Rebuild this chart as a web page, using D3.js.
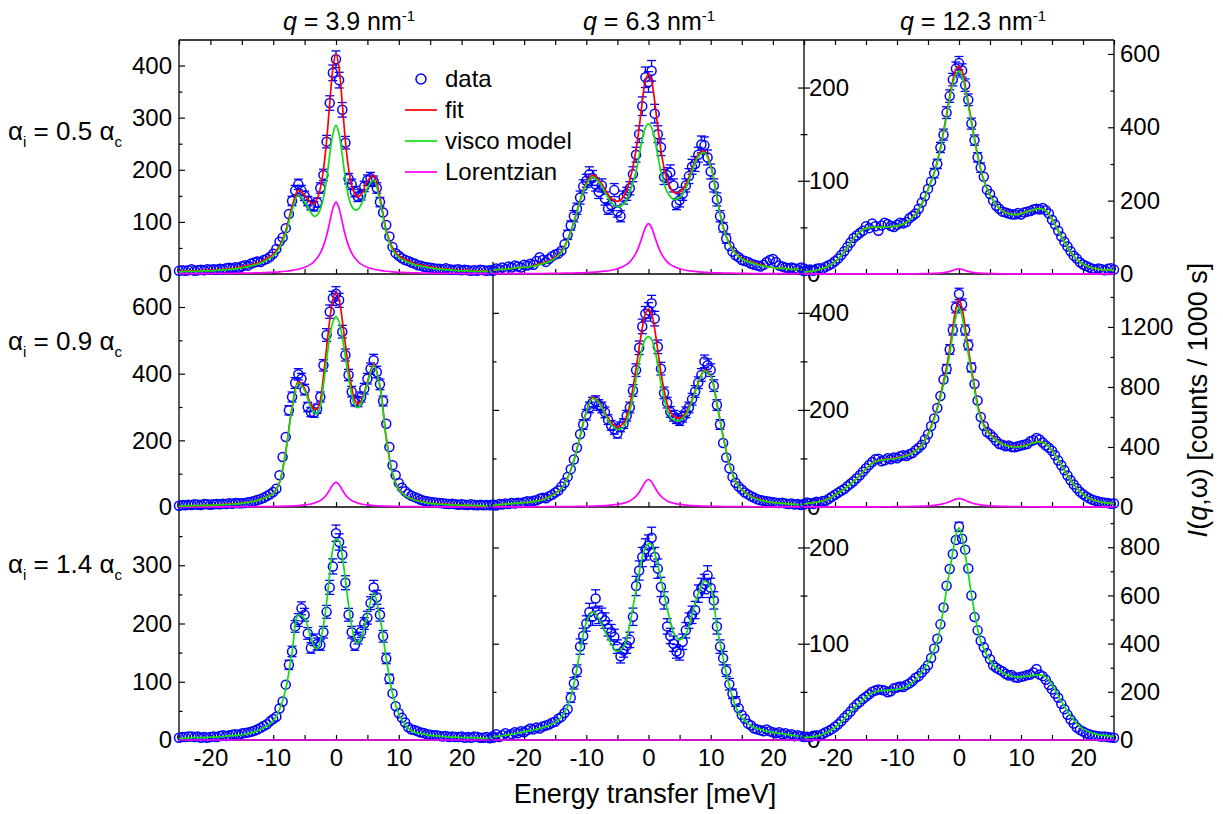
<!DOCTYPE html>
<html>
<head>
<meta charset="utf-8">
<script src="https://cdn.jsdelivr.net/npm/d3@7"></script>
<style>
  html, body { margin: 0; padding: 0; background: #fff; }
  svg { display: block; }
</style>
</head>
<body>
<svg id="chart" width="1223" height="814"></svg>
<script>
// ---------------------------------------------------------------------------
// Energy grids [meV]
// ---------------------------------------------------------------------------
const energy = [-25,-24.5,-24,-23.5,-23,-22.5,-22,-21.5,-21,-20.5,-20,-19.5,-19,-18.5,-18,-17.5,-17,-16.5,-16,-15.5,
  -15,-14.5,-14,-13.5,-13,-12.5,-12,-11.5,-11,-10.5,-10,-9.5,-9,-8.5,-8,-7.5,-7,-6.5,-6,-5.5,
  -5,-4.5,-4,-3.5,-3,-2.5,-2,-1.5,-1,-0.5,0,0.5,1,1.5,2,2.5,3,3.5,4,4.5,
  5,5.5,6,6.5,7,7.5,8,8.5,9,9.5,10,10.5,11,11.5,12,12.5,13,13.5,14,14.5,
  15,15.5,16,16.5,17,17.5,18,18.5,19,19.5,20,20.5,21,21.5,22,22.5,23,23.5,24,24.5,25];

const energyModel = [-25,-24,-23,-22,-21,-20,-19,-18,-17,-16,-15,-14,-13,-12,-11,-10,-9,-8,-7,-6,-5,
  -4,-3.5,-3,-2.5,-2,-1.5,-1,-0.5,0,0.5,1,1.5,2,2.5,3,3.5,4,
  5,6,7,8,9,10,11,12,13,14,15,16,17,18,19,20,21,22,23,24,25];

const energyFlat = [-25, 25];
const lorentzFlat = [0, 0];

// ---------------------------------------------------------------------------
// alpha_i = 0.5 alpha_c
// ---------------------------------------------------------------------------
const counts_a05_q39 = [6,7,6,7,9,6,7,8,7,9, 8,9,8,10,9,11,12,11,13,12, 15,17,16,20,22,24,23,27,29,33,
  39,48,62,70,88,115,140,160,172,160, 150,140,132,130,137,165,190,254,328,386, 412,372,315,252,183,172,158,148,152,168,
  180,184,178,165,138,118,94,72,52,40, 35,30,27,25,22,20,17,16,14,13, 12,11,10,10,9,11,9,8,8,9, 7,8,7,6,7,6,8,7,6,7, 6];
const err_a05_q39 = [2,2,2,2,2,2,2,2,2,2, 2,2,2,2,2,3,3,3,3,3, 3,3,3,3,4,4,4,4,4,4,
  5,5,6,6,7,8,9,10,10,10, 9,9,9,9,9,10,11,12,14,15, 16,15,14,12,10,10,10,9,10,10,
  10,11,10,10,9,8,8,7,6,5, 5,4,4,4,4,3,3,3,3,3, 3,3,2,2,2,3,2,2,2,2, 2,2,2,2,2,2,2,2,2,2, 2];
const visco_a05_q39 = [4,5,5,5,6,6,7,8,9,10,12,14,17,21,27,35,50,78,122,152,138,
  118,111,113,124,146,182,228,268,285,268,228,182,148,130,123,124,133,
  165,180,140,80,46,32,25,20,16,14,12,10,9,8,7,6,6,5,5,5,4];
const lorentz_a05_q39 = [0.6,0.6,0.7,0.7,0.8,0.9,1.0,1.1,1.2,1.4,1.5,1.8,2.1,2.4,2.9,3.4,4.2,5.3,6.9,9.2,12.8,
  19.0,23.9,30.6,40.1,53.9,73.4,99.3,125.7,138,125.7,99.3,73.4,53.9,40.1,30.6,23.9,19.0,
  12.8,9.2,6.9,5.3,4.2,3.4,2.9,2.4,2.1,1.8,1.5,1.4,1.2,1.1,1.0,0.9,0.8,0.7,0.7,0.6,0.6];
const fit_a05_q39 = [5,6,6,6,7,7,8,9,10,11,14,16,19,23,30,38,54,83,129,161,151,
  137,135,144,164,200,255,327,394,423,394,327,255,202,170,154,148,152,
  178,189,147,85,50,35,28,22,18,16,14,11,10,9,8,7,7,6,6,6,5];

const counts_a05_q63 = [4,6,5,7,5,8,7,9,8,7, 10,9,11,10,14,18,15,13,16,19, 21,22,25,32,42,52,62,70,82,94,
  100,107,103,96,88,95,81,70,74,90, 67,62,82,86,92,107,128,150,180,211, 206,218,172,150,136,104,106,109,95,75,
  79,86,95,105,115,118,128,139,138,125, 110,95,80,62,50,38,30,24,20,18, 15,14,13,11,10,9,8,10,13,15, 16,13,9,8,7,6,7,6,5,7, 6];
const err_a05_q63 = [2,2,2,2,2,2,2,2,2,2, 2,2,2,2,3,3,3,3,3,3, 3,4,4,4,5,5,6,6,7,7,
  7,8,8,7,7,7,7,6,6,7, 6,6,7,7,7,8,8,9,10,11, 11,11,10,9,9,8,8,8,7,6,
  7,7,7,8,8,8,8,9,9,8, 8,7,7,6,5,5,4,4,3,3, 3,3,3,2,2,2,2,2,3,3, 3,3,2,2,2,2,2,2,2,2, 2];
const visco_a05_q63 = [4,5,5,6,7,7,8,9,11,13,17,23,36,55,78,96,104,99,88,77,72,
  75,80,88,98,110,127,145,157,161,157,145,127,110,97,88,83,80,
  82,92,110,126,130,115,82,50,32,22,16,13,11,9,8,7,6,6,5,5,4];
const lorentz_a05_q63 = [0.3,0.3,0.3,0.3,0.4,0.4,0.4,0.5,0.5,0.6,0.7,0.8,0.9,1.1,1.3,1.5,1.9,2.3,3.0,4.0,5.6,
  8.3,10.3,13.1,17.1,22.7,30.4,40.1,49.7,54,49.7,40.1,30.4,22.7,17.1,13.1,10.3,8.3,
  5.6,4.0,3.0,2.3,1.9,1.5,1.3,1.1,0.9,0.8,0.7,0.6,0.5,0.5,0.4,0.4,0.4,0.3,0.3,0.3,0.3];
const fit_a05_q63 = [4,5,5,6,7,7,8,10,12,14,18,24,37,56,79,98,106,101,91,81,78,
  83,90,101,115,133,157,185,207,215,207,185,157,133,114,101,93,88,
  88,96,113,128,132,117,83,51,33,23,17,14,12,10,8,7,6,6,5,5,4];

const counts_a05_q123 = [8,10,12,9,14,16,14,20,24,28, 35,42,52,62,74,86,98,105,112,118, 130,125,138,130,118,132,140,136,131,128,
  134,140,138,142,152,158,165,178,195,212, 232,252,275,300,345,380,440,485,530,560, 575,555,515,475,410,365,318,290,265,230,
  218,200,186,178,170,168,165,163,162,166, 162,168,170,172,176,178,176,180,174,165, 148,135,118,102,88,75,62,50,42,32, 26,22,18,14,12,15,13,10,14,16, 12];
const err_a05_q123 = [2,2,3,2,3,3,3,3,4,4, 4,5,5,6,6,7,7,8,8,8, 9,8,9,9,8,9,9,9,9,9,
  9,9,9,9,9,9,10,10,11,11, 11,12,13,13,14,15,16,17,17,18, 18,18,17,16,15,14,13,13,12,11,
  11,11,10,10,10,10,10,10,10,10, 10,10,10,10,10,10,10,10,10,10, 9,9,8,8,7,7,6,5,5,4, 4,4,3,3,3,3,3,2,3,3, 3];
const visco_a05_q123 = [5,7,10,15,22,33,50,72,97,115,125,128,128,128,129,131,136,147,163,190,230,
  275,305,340,385,430,478,518,545,553,540,505,460,413,366,322,284,254,
  215,188,172,164,162,164,170,175,178,172,150,118,88,60,40,27,19,15,12,11,10];
const lorentz_a05_q123 = [0.1,0.1,0.1,0.1,0.1,0.1,0.1,0.1,0.1,0.1,0.1,0.2,0.2,0.2,0.3,0.3,0.4,0.5,0.6,0.9,1.2,
  1.7,2.2,2.8,3.7,5.0,7.0,9.7,12.6,14,12.6,9.7,7.0,5.0,3.7,2.8,2.2,1.7,
  1.2,0.9,0.6,0.5,0.4,0.3,0.3,0.2,0.2,0.2,0.1,0.1,0.1,0.1,0.1,0.1,0.1,0.1,0.1,0.1,0.1];
const fit_a05_q123 = [5,7,10,15,22,33,50,72,97,115,125,128,128,128,129,131,136,147,164,191,231,
  277,307,343,389,435,485,528,558,567,553,515,467,418,370,325,286,256,
  216,189,173,165,162,164,170,175,178,172,150,118,88,60,40,27,19,15,12,11,10];

// ---------------------------------------------------------------------------
// alpha_i = 0.9 alpha_c
// ---------------------------------------------------------------------------
const counts_a09_q39 = [4,6,5,7,6,8,7,6,9,8, 7,8,9,8,10,9,11,10,12,11, 11,12,14,16,18,21,24,28,33,38,
  45,55,95,150,210,290,330,372,398,385, 352,300,285,283,295,330,425,516,586,626, 640,620,526,456,396,346,318,316,330,355,
  385,415,440,405,368,318,250,180,125,95, 72,58,47,40,34,30,26,22,19,17, 15,14,13,12,11,10,9,10,8,7, 8,7,6,8,6,5,7,5,6,5, 6];
const err_a09_q39 = [2,2,2,2,2,2,2,2,3,2, 2,2,3,2,3,3,3,3,3,3, 3,3,3,3,4,4,4,4,5,5,
  6,6,8,10,12,14,15,16,17,16, 16,14,14,14,14,15,17,19,20,21, 21,21,19,18,17,16,15,15,15,16,
  16,17,18,17,16,15,13,11,9,8, 7,6,6,5,5,5,4,4,4,3, 3,3,3,3,3,3,3,3,2,2, 2,2,2,2,2,2,2,2,2,2, 2];
const visco_a09_q39 = [3,3,4,4,5,5,6,7,8,9,11,14,17,22,30,40,72,165,295,372,350,
  298,283,280,300,365,440,510,555,571,555,510,450,390,338,305,298,310,
  370,425,360,205,100,52,34,24,18,14,11,9,8,7,6,5,5,4,4,3,3];
const lorentz_a09_q39 = [0.3,0.3,0.3,0.3,0.4,0.4,0.5,0.5,0.6,0.6,0.7,0.8,1.0,1.1,1.4,1.6,2.0,2.5,3.3,4.4,6.1,
  9.1,11.5,14.8,19.6,26.6,37,51.2,66.6,74,66.6,51.2,37,26.6,19.6,14.8,11.5,9.1,
  6.1,4.4,3.3,2.5,2.0,1.6,1.4,1.1,1.0,0.8,0.7,0.6,0.6,0.5,0.5,0.4,0.4,0.3,0.3,0.3,0.3];
const fit_a09_q39 = [3,3,4,4,5,5,6,8,9,10,12,15,18,23,31,42,74,168,298,376,356,
  307,295,295,320,392,477,561,622,645,622,561,487,417,358,320,310,319,
  376,429,363,208,102,54,35,25,19,15,12,10,9,8,7,5,5,4,4,3,3];

const counts_a09_q63 = [5,3,6,5,7,6,8,7,9,8, 10,12,11,13,14,17,19,18,22,25, 30,34,42,50,62,78,98,122,150,170,
  190,205,215,218,210,205,195,180,168,160, 152,165,172,188,205,240,282,328,372,398, 405,420,388,330,285,235,215,196,188,182,
  178,186,195,205,222,238,256,272,300,292, 282,250,210,170,132,102,80,62,50,42, 36,30,26,22,19,16,14,13,12,11, 10,9,8,9,7,6,7,5,6,4, 5];
const err_a09_q63 = [2,1,2,2,2,2,2,2,2,2, 2,3,3,3,3,3,3,3,4,4, 4,5,5,5,6,7,8,9,9,10,
  11,11,11,11,11,11,11,10,10,10, 10,10,10,11,11,12,13,14,15,15, 16,16,15,14,13,12,11,11,11,10,
  10,11,11,11,12,12,12,13,13,13, 13,12,11,10,9,8,7,6,5,5, 5,4,4,4,3,3,3,3,3,3, 2,2,2,2,2,2,2,2,2,2, 2];
const visco_a09_q63 = [4,5,6,7,8,9,10,12,15,20,27,38,60,95,145,195,224,215,192,170,160,
  165,178,198,228,263,298,328,346,351,345,325,292,255,224,200,186,180,
  178,190,218,255,280,270,212,145,88,52,35,25,18,14,11,9,8,7,6,5,4];
const lorentz_a09_q63 = [0.2,0.3,0.3,0.3,0.3,0.4,0.4,0.5,0.5,0.6,0.6,0.7,0.9,1.0,1.2,1.4,1.7,2.2,2.9,3.8,5.3,
  7.9,9.9,12.6,16.6,22.3,30.3,41,51.9,57,51.9,41,30.3,22.3,16.6,12.6,9.9,7.9,
  5.3,3.8,2.9,2.2,1.7,1.4,1.2,1.0,0.9,0.7,0.6,0.6,0.5,0.5,0.4,0.4,0.3,0.3,0.3,0.3,0.2];
const fit_a09_q63 = [4,5,6,7,8,9,10,12,16,21,28,39,61,96,146,196,226,217,195,174,165,
  173,188,211,245,285,328,369,398,408,397,366,322,277,241,213,196,188,
  183,194,221,257,282,271,213,146,89,53,36,26,19,15,11,9,8,7,6,5,4];

const counts_a09_q123 = [22,30,25,20,35,30,40,42,55,68, 82,95,108,120,138,155,172,192,212,235, 258,280,300,318,322,305,312,325,318,330,
  325,338,345,340,352,360,378,395,415,450, 485,540,590,660,740,850,920,1050,1180,1330, 1420,1350,1180,1080,930,820,710,600,540,500,
  485,465,440,420,415,405,410,400,398,405, 410,415,420,438,445,460,450,430,410,395, 375,345,310,278,245,210,178,150,125,102, 85,70,58,48,42,36,32,28,26,22, 24];
const err_a09_q123 = [5,5,5,4,6,5,6,6,7,8, 9,10,10,11,12,12,13,14,15,15, 16,17,17,18,18,17,18,18,18,18,
  18,18,19,18,19,19,19,20,20,21, 22,23,24,26,27,29,30,32,34,36, 38,37,34,33,30,29,27,24,23,22,
  22,22,21,20,20,20,20,20,20,20, 20,20,20,21,21,21,21,21,20,20, 19,19,18,17,16,14,13,12,11,10, 9,8,8,7,6,6,6,5,5,5, 5];
const visco_a09_q123 = [20,26,32,40,55,80,105,135,170,210,255,290,308,315,320,325,335,350,372,410,480,
  585,650,730,815,905,1020,1150,1270,1330,1270,1150,1020,900,780,670,590,540,
  480,445,420,405,400,402,412,428,435,420,375,315,245,180,125,85,58,42,32,26,22];
const lorentz_a09_q123 = [0.4,0.4,0.4,0.5,0.5,0.6,0.6,0.7,0.8,0.9,1.0,1.1,1.3,1.5,1.8,2.2,2.6,3.3,4.3,5.6,7.7,
  11.2,13.8,17.2,21.9,28,35.8,44.8,52.7,56,52.7,44.8,35.8,28,21.9,17.2,13.8,11.2,
  7.7,5.6,4.3,3.3,2.6,2.2,1.8,1.5,1.3,1.1,1.0,0.9,0.8,0.7,0.6,0.6,0.5,0.5,0.4,0.4,0.4];
const fit_a09_q123 = [20,26,32,41,56,81,106,136,171,211,256,291,309,317,322,327,338,353,376,416,488,
  596,664,747,837,933,1056,1195,1323,1386,1323,1195,1056,928,802,687,604,551,
  488,451,424,408,403,404,414,430,436,421,376,316,246,181,126,86,59,43,32,26,22];

// ---------------------------------------------------------------------------
// alpha_i = 1.4 alpha_c
// ---------------------------------------------------------------------------
const counts_a14_q39 = [4,5,5,6,6,5,6,4,5,4, 5,6,5,7,8,7,8,9,10,9, 11,12,13,14,16,18,21,24,27,32,
  36,40,54,66,95,129,152,195,206,226, 215,183,158,172,165,163,185,220,262,298, 355,340,318,270,215,185,163,175,186,200,
  210,235,262,245,215,178,140,105,80,58, 46,38,30,22,18,17,15,13,12,10, 9,8,8,7,6,7,5,6,5,5, 6,4,5,4,6,5,4,4,5,3, 4];
const err_a14_q39 = [1,2,2,2,2,2,2,1,2,1, 2,2,2,2,2,2,2,2,2,2, 2,3,3,3,3,3,3,4,4,4,
  4,5,5,6,7,8,9,10,11,11, 11,10,9,10,10,9,10,11,12,13, 14,14,13,12,11,10,9,10,10,10,
  11,11,12,12,11,10,9,8,7,6, 5,5,4,3,3,3,3,3,3,2, 2,2,2,2,2,2,2,2,2,2, 2,1,2,1,2,2,1,1,2,1, 1];
const visco_a14_q39 = [3,3,4,4,4,5,5,6,7,8,9,11,14,18,24,33,52,88,150,215,208,
  175,162,156,170,196,236,285,328,345,342,315,275,232,196,172,166,175,
  215,252,210,140,80,45,26,16,12,10,8,7,6,5,5,4,4,4,3,3,3];

const counts_a14_q63 = [4,6,3,5,7,5,6,8,7,9, 8,10,12,11,13,12,14,15,16,18, 19,22,24,28,32,44,59,72,97,108,
  121,133,128,147,130,128,124,116,112,107, 97,87,93,98,104,128,160,176,190,198, 202,210,190,178,159,145,118,108,100,92,
  90,102,114,124,130,135,152,158,162,171, 158,145,118,97,85,72,58,48,40,33, 26,22,17,15,12,11,10,9,11,9, 8,7,8,6,7,5,6,4,5,4, 3];
const err_a14_q63 = [2,2,1,2,2,2,2,2,2,2, 2,2,3,3,3,3,3,3,3,3, 3,4,4,4,4,5,6,6,8,8,
  8,9,9,9,9,9,8,8,8,8, 7,7,7,8,8,9,10,10,10,11, 11,11,10,10,10,9,8,8,8,7,
  7,8,8,8,9,9,9,10,10,10, 10,9,8,7,7,6,6,5,5,4, 4,4,3,3,3,3,2,2,3,2, 2,2,2,2,2,2,2,2,2,2, 1];
const visco_a14_q63 = [3.5,4,5,6,7,8.7,10,11,13,15,18,24,35,58,92,122,133,126,113,100,92,
  97,106,120,138,156,174,190,200,204,203,194,182,167,152,136,124,112,
  104,110,130,152,165,158,118,85,56,35,23,17,13,11,9,8,7,6,5,4,3.5];

const counts_a14_q123 = [14,14,12,18,20,16,25,32,38,45, 55,65,78,92,105,118,135,148,158,170, 180,190,200,205,210,208,205,198,202,215,
  218,222,220,228,235,245,258,265,280,295, 310,340,380,420,480,550,640,710,772,830, 885,835,790,712,600,510,455,412,385,360,
  335,310,300,292,285,275,268,270,260,258, 262,265,270,272,280,295,272,265,250,228, 210,192,175,150,128,105,85,68,52,42, 35,28,24,20,18,16,14,15,12,10, 9];
const err_a14_q123 = [2,2,2,3,3,3,3,4,4,4, 5,5,6,6,6,7,7,8,8,8, 8,9,9,9,9,9,9,9,9,9,
  9,9,9,10,10,10,10,10,11,11, 11,12,12,13,14,15,16,17,18,18, 19,18,18,17,15,14,13,13,12,12,
  12,11,11,11,11,10,10,10,10,10, 10,10,10,10,11,11,10,10,10,10, 9,9,8,8,7,6,6,5,5,4, 4,3,3,3,3,3,2,2,2,2, 2];
const visco_a14_q123 = [10,12,16,24,35,52,75,103,130,155,178,195,203,206,208,210,215,228,250,282,320,
  375,410,470,545,625,705,780,850,880,840,770,690,605,530,460,410,378,
  330,298,280,268,262,262,265,268,270,262,230,185,140,100,68,46,33,25,20,17,15];

// ---------------------------------------------------------------------------
// Axis ticks and labels
// ---------------------------------------------------------------------------
const xTickMarks = [-25,-20,-15,-10,-5,0,5,10,15,20,25];
const xTickLabels = [-20,-10,0,10,20];

const yMajor_a05_q39 = [0,100,200,300,400],     yMinor_a05_q39 = [50,150,250,350];
const yMajor_a05_q63 = [0,100,200],             yMinor_a05_q63 = [50,150];
const yMajor_a05_q123 = [0,200,400,600],        yMinor_a05_q123 = [100,300,500];
const yMajor_a09_q39 = [0,200,400,600],         yMinor_a09_q39 = [100,300,500];
const yMajor_a09_q63 = [0,200,400],             yMinor_a09_q63 = [100,300];
const yMajor_a09_q123 = [0,400,800,1200],       yMinor_a09_q123 = [200,600,1000,1400];
const yMajor_a14_q39 = [0,100,200,300],         yMinor_a14_q39 = [50,150,250,350];
const yMajor_a14_q63 = [0,100,200],             yMinor_a14_q63 = [50,150];
const yMajor_a14_q123 = [0,200,400,600,800],    yMinor_a14_q123 = [100,300,500,700,900];

const qValues = ["3.9", "6.3", "12.3"];
const alphaValues = ["0.5", "0.9", "1.4"];
const legendNames = ["data", "fit", "visco model", "Lorentzian"];

// ---------------------------------------------------------------------------
// Panel table
// ---------------------------------------------------------------------------
const panels = [
  {row:0, col:0, counts:counts_a05_q39, err:err_a05_q39, visco:visco_a05_q39, fit:fit_a05_q39, lor:lorentz_a05_q39, top:449, major:yMajor_a05_q39, minor:yMinor_a05_q39},
  {row:0, col:1, counts:counts_a05_q63, err:err_a05_q63, visco:visco_a05_q63, fit:fit_a05_q63, lor:lorentz_a05_q63, top:251, major:yMajor_a05_q63, minor:yMinor_a05_q63},
  {row:0, col:2, counts:counts_a05_q123, err:err_a05_q123, visco:visco_a05_q123, fit:fit_a05_q123, lor:lorentz_a05_q123, top:638, major:yMajor_a05_q123, minor:yMinor_a05_q123},
  {row:1, col:0, counts:counts_a09_q39, err:err_a09_q39, visco:visco_a09_q39, fit:fit_a09_q39, lor:lorentz_a09_q39, top:699, major:yMajor_a09_q39, minor:yMinor_a09_q39},
  {row:1, col:1, counts:counts_a09_q63, err:err_a09_q63, visco:visco_a09_q63, fit:fit_a09_q63, lor:lorentz_a09_q63, top:480, major:yMajor_a09_q63, minor:yMinor_a09_q63},
  {row:1, col:2, counts:counts_a09_q123, err:err_a09_q123, visco:visco_a09_q123, fit:fit_a09_q123, lor:lorentz_a09_q123, top:1553, major:yMajor_a09_q123, minor:yMinor_a09_q123},
  {row:2, col:0, counts:counts_a14_q39, err:err_a14_q39, visco:visco_a14_q39, fit:null, lor:null, top:400, major:yMajor_a14_q39, minor:yMinor_a14_q39},
  {row:2, col:1, counts:counts_a14_q63, err:err_a14_q63, visco:visco_a14_q63, fit:null, lor:null, top:242, major:yMajor_a14_q63, minor:yMinor_a14_q63},
  {row:2, col:2, counts:counts_a14_q123, err:err_a14_q123, visco:visco_a14_q123, fit:null, lor:null, top:967, major:yMajor_a14_q123, minor:yMinor_a14_q123}
];

// ---------------------------------------------------------------------------
// Layout and style
// ---------------------------------------------------------------------------
const FONT = "'Liberation Sans', Arial, Helvetica, sans-serif";
const colEdges = [179, 493, 804, 1114];
const rowEdges = [40, 274, 507, 740];
const BLUE = "#0000ff", RED = "#ff0000", GREEN = "#11dd11", MAGENTA = "#ff00ff";
const R = 4.5, CAP = 4.5;
const TICK_FONT = 24;

const svg = d3.select("#chart").attr("font-family", FONT);
svg.append("rect").attr("width", 1223).attr("height", 814).attr("fill", "#fff");

panels.forEach(p => {
  p.x = d3.scaleLinear().domain([-25, 25]).range([colEdges[p.col], colEdges[p.col + 1]]);
  p.y = d3.scaleLinear().domain([0, p.top]).range([rowEdges[p.row + 1], rowEdges[p.row]]);
});

// frame lines
const frame = svg.append("g").attr("stroke", "#000").attr("stroke-width", 1.3);
rowEdges.forEach(yy => frame.append("line")
  .attr("x1", colEdges[0]).attr("x2", colEdges[3]).attr("y1", yy).attr("y2", yy));
[colEdges[0], colEdges[2], colEdges[3]].forEach(xx => frame.append("line")
  .attr("x1", xx).attr("x2", xx).attr("y1", rowEdges[0]).attr("y2", rowEdges[3]));
frame.append("line").attr("x1", colEdges[1]).attr("x2", colEdges[1])
  .attr("y1", rowEdges[1] - 12).attr("y2", rowEdges[3]);

// generic axis helper
function axis(gen, scale, values, size, tx, ty, withLabels, padding) {
  const a = gen(scale).tickValues(values).tickSize(size);
  if (withLabels) a.tickPadding(padding).tickFormat(d => String(d));
  else a.tickFormat("");
  const g = svg.append("g").attr("transform", `translate(${tx},${ty})`).call(a);
  g.select(".domain").remove();
  g.attr("font-family", FONT).attr("font-size", TICK_FONT);
  g.selectAll("line").attr("stroke-width", 1.2);
  g.selectAll("text").attr("fill", "#000");
  return g;
}

panels.forEach(p => {
  const x0 = colEdges[p.col], x1 = colEdges[p.col + 1];
  const yb = rowEdges[p.row + 1], yt = rowEdges[p.row];
  // x ticks
  axis(d3.axisBottom, p.x, xTickMarks, -5, 0, yb, false);
  if (p.row === 0) axis(d3.axisTop, p.x, xTickMarks, -5, 0, yt, false);
  if (p.row === 2) axis(d3.axisBottom, p.x, xTickLabels, 0, 0, yb, true, 9);

  if (p.col === 0) {
    axis(d3.axisLeft, p.y, p.major, -6, x0, 0, false);
    axis(d3.axisLeft, p.y, p.minor, -3.5, x0, 0, false);
    axis(d3.axisLeft, p.y, p.major, 0, x0, 0, true, 7);
  } else if (p.col === 1) {
    if (p.row > 0) {
      axis(d3.axisLeft, p.y, p.major, -6, x0, 0, false);
      axis(d3.axisLeft, p.y, p.minor, -3.5, x0, 0, false);
    }
    axis(d3.axisRight, p.y, p.major, -6, x1, 0, false);
    axis(d3.axisRight, p.y, p.minor, -3.5, x1, 0, false);
    axis(d3.axisRight, p.y, p.major, 6, x1, 0, false);
    axis(d3.axisRight, p.y, p.minor, 3.5, x1, 0, false);
    const lab = axis(d3.axisRight, p.y, p.major, 0, x1, 0, true, 5);
    // the zero label sits under the next row's frame line; nudge it left of the x labels
    lab.selectAll(".tick").filter(d => d === 0).select("text").attr("x", 3);
  } else {
    axis(d3.axisRight, p.y, p.major, -6, x1, 0, false);
    axis(d3.axisRight, p.y, p.minor, -3.5, x1, 0, false);
    axis(d3.axisRight, p.y, p.major, 0, x1, 0, true, 6);
  }
});

// data points with error bars
function drawData(g, p) {
  const eg = g.append("g").attr("stroke", BLUE).attr("stroke-width", 1.3).attr("fill", "none");
  energy.forEach((e, i) => {
    const v = p.counts[i], s = p.err[i];
    const cx = p.x(e), cy = p.y(v);
    const yUp = p.y(v + s), yDn = p.y(v - s);
    if (cy - yUp > R) {
      eg.append("line").attr("x1", cx).attr("x2", cx).attr("y1", cy - R).attr("y2", yUp);
      eg.append("line").attr("x1", cx - CAP).attr("x2", cx + CAP).attr("y1", yUp).attr("y2", yUp);
    }
    if (yDn - cy > R) {
      eg.append("line").attr("x1", cx).attr("x2", cx).attr("y1", cy + R).attr("y2", yDn);
      eg.append("line").attr("x1", cx - CAP).attr("x2", cx + CAP).attr("y1", yDn).attr("y2", yDn);
    }
  });
  g.append("g").selectAll("circle").data(energy).join("circle")
    .attr("cx", d => p.x(d)).attr("cy", (d, i) => p.y(p.counts[i])).attr("r", R)
    .attr("fill", "none").attr("stroke", BLUE).attr("stroke-width", 1.5);
}

function drawCurve(g, p, xs, vs, color) {
  const line = d3.line().x(d => p.x(d[0])).y(d => p.y(d[1])).curve(d3.curveCatmullRom.alpha(0.5));
  g.append("path").attr("d", line(xs.map((e, i) => [e, vs[i]])))
    .attr("fill", "none").attr("stroke", color).attr("stroke-width", 1.7).attr("stroke-linejoin", "round");
}

panels.forEach(p => {
  const g = svg.append("g");
  drawData(g, p);
  if (p.lor) drawCurve(g, p, energyModel, p.lor, MAGENTA);
  else drawCurve(g, p, energyFlat, lorentzFlat, MAGENTA);
  if (p.fit) drawCurve(g, p, energyModel, p.fit, RED);
  drawCurve(g, p, energyModel, p.visco, GREEN);
});

// rich text helper
function rich(parent, x, y, parts, size, anchor) {
  const t = parent.append("text").attr("x", x).attr("y", y).attr("font-size", size)
    .attr("text-anchor", anchor || "start").attr("fill", "#000");
  parts.forEach(pt => {
    const s = t.append("tspan").text(pt.t);
    if (pt.it) s.attr("font-style", "italic");
    if (pt.fs) s.attr("font-size", pt.fs);
    if (pt.dy) s.attr("dy", pt.dy);
  });
  return t;
}

// column titles
const titleX = [283, 583, 900];
qValues.forEach((q, c) => rich(svg, titleX[c], 30,
  [{t: "q", it: true}, {t: " = " + q + " nm"}, {t: "-1", fs: 15, dy: -9}], 25));

// row labels
const rowLabelY = [140, 350, 573];
alphaValues.forEach((a, r) => rich(svg, 8, rowLabelY[r],
  [{t: "\u03b1"}, {t: "i", fs: 15, dy: 7}, {t: " = " + a + " ", dy: -7}, {t: "\u03b1"}, {t: "c", fs: 15, dy: 7}], 26));

// axis titles
rich(svg, 645, 803, [{t: "Energy transfer [meV]"}], 27, "middle");
rich(svg.append("g").attr("transform", "translate(1207,400) rotate(-90)"), 0, 0,
  [{t: "I", it: true}, {t: "("}, {t: "q", it: true}, {t: ",\u03c9) [counts / 1000 s]"}], 27, "middle");

// legend
const lg = svg.append("g");
const legY0 = 78, legStep = 31;
legendNames.forEach((name, i) => {
  const yy = legY0 + i * legStep;
  if (i === 0) {
    lg.append("circle").attr("cx", 421).attr("cy", yy + 1).attr("r", R + 0.5)
      .attr("fill", "none").attr("stroke", BLUE).attr("stroke-width", 1.5);
  } else {
    lg.append("line").attr("x1", 405).attr("x2", 437).attr("y1", yy + 1).attr("y2", yy + 1)
      .attr("stroke", [null, RED, GREEN, MAGENTA][i]).attr("stroke-width", 1.7);
  }
  lg.append("text").attr("x", 445).attr("y", yy + 9).attr("font-size", 24).attr("fill", "#000").text(name);
});
</script>
</body>
</html>
